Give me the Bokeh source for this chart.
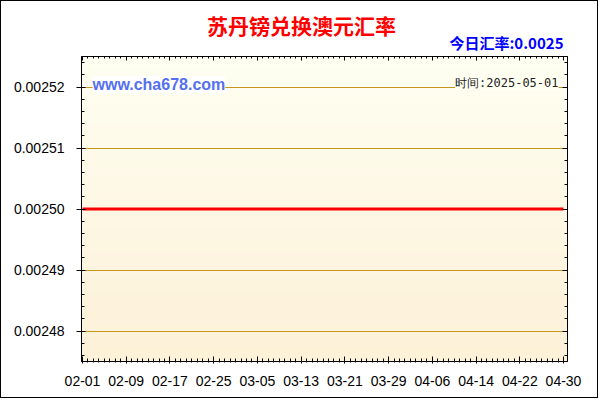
import numpy as np
import pandas as pd
from bokeh.plotting import figure
from bokeh.models import (Range1d, FixedTicker, DatetimeAxis, LinearAxis, Label,
                          CustomJSTickFormatter, PrintfTickFormatter)
from bokeh.embed import file_html
from bokeh.resources import INLINE

# ---------------- data ----------------
title_text = "苏丹镑兑换澳元汇率"
today_rate_text = "今日汇率:0.0025"
watermark_text = "www.cha678.com"
time_text = "时间:2025-05-01"

dates = ["2025-02-01", "2025-02-09", "2025-02-17", "2025-02-25", "2025-03-05", "2025-03-13",
         "2025-03-21", "2025-03-29", "2025-04-06", "2025-04-14", "2025-04-22", "2025-04-30"]
rates = [0.0025, 0.0025, 0.0025, 0.0025, 0.0025, 0.0025,
         0.0025, 0.0025, 0.0025, 0.0025, 0.0025, 0.0025]
x_tick_dates = ["2025-02-01", "2025-02-09", "2025-02-17", "2025-02-25", "2025-03-05", "2025-03-13",
                "2025-03-21", "2025-03-29", "2025-04-06", "2025-04-14", "2025-04-22", "2025-04-30"]
x_tick_labels = ["02-01", "02-09", "02-17", "02-25", "03-05", "03-13",
                 "03-21", "03-29", "04-06", "04-14", "04-22", "04-30"]
y_ticks = [0.00248, 0.00249, 0.00250, 0.00251, 0.00252]

# ---------------- helpers ----------------
DAY = 86400000.0
def ms(s):
    return pd.Timestamp(s).value / 1e6

x_vals = [ms(d) for d in dates]
x_lo = ms(x_tick_dates[0]) - 0.183 * DAY
x_hi = ms(x_tick_dates[-1]) + 0.73 * DAY
y_lo, y_hi = 0.002475, 0.002525

W, H = 598, 398
p = figure(width=W, height=H, x_axis_type="datetime",
           x_range=Range1d(x_lo, x_hi), y_range=Range1d(y_lo, y_hi),
           output_backend="svg", toolbar_location=None,
           min_border_left=80, min_border_right=32, min_border_top=55, min_border_bottom=38)
p.styles = {"border": "1px solid black"}
p.background_fill_color = "#FFFFF2"
p.border_fill_color = "white"
p.outline_line_color = "black"
p.outline_line_width = 1
p.title.text = ""

# gradient background
n = 64
top = np.array([255, 255, 242]); bot = np.array([253, 241, 216])
img = np.empty((n, 2), dtype=np.uint32)
view = img.view(dtype=np.uint8).reshape((n, 2, 4))
for i in range(n):
    t = i / (n - 1)
    c = bot * (1 - t) + top * t
    view[i, :, 0] = int(c[0]); view[i, :, 1] = int(c[1]); view[i, :, 2] = int(c[2]); view[i, :, 3] = 255
p.image_rgba(image=[img], x=x_lo, y=y_lo, dw=x_hi - x_lo, dh=y_hi - y_lo, level="image")

# grid
p.xgrid.grid_line_color = None
p.ygrid.grid_line_color = "#C8961E"
p.ygrid.grid_line_width = 1
p.ygrid.level = "underlay"

# ticks
day_minor = list(np.arange(ms(x_tick_dates[0]), ms(x_tick_dates[-1]) + 1, DAY))
x_ticker = FixedTicker(ticks=[ms(d) for d in x_tick_dates], minor_ticks=day_minor)
y_ticker = FixedTicker(ticks=y_ticks,
                       minor_ticks=list(np.round(np.arange(0.002476, 0.002525, 0.000002), 7)))

xa = p.xaxis[0]
xa.ticker = x_ticker
xa.major_label_overrides = {ms(d): lab for d, lab in zip(x_tick_dates, x_tick_labels)}
xa.major_tick_in = 5; xa.major_tick_out = 2
xa.minor_tick_in = 3; xa.minor_tick_out = 1
xa.major_label_standoff = 12
ya = p.yaxis[0]
ya.ticker = y_ticker
ya.formatter = PrintfTickFormatter(format="%.5f")
ya.major_tick_in = 4; ya.major_tick_out = 5
ya.minor_tick_in = 3; ya.minor_tick_out = 0
ya.major_label_standoff = 12
for ax in (xa, ya):
    ax.axis_line_color = "black"
    ax.major_tick_line_color = "black"
    ax.minor_tick_line_color = "black"
    ax.major_label_text_font = "Liberation Sans"
    ax.major_label_text_font_size = "14px"
    ax.major_label_text_color = "black"

blank = CustomJSTickFormatter(code="return ''")
top_ax = DatetimeAxis(ticker=x_ticker, formatter=blank, major_tick_in=4, major_tick_out=0,
                      minor_tick_in=2, minor_tick_out=0, major_label_standoff=0,
                      major_label_text_font_size="1px")
right_ax = LinearAxis(ticker=y_ticker, formatter=blank, major_tick_in=5, major_tick_out=0,
                      minor_tick_in=3, minor_tick_out=0, major_label_standoff=0,
                      major_label_text_font_size="1px")
p.add_layout(top_ax, "above")
p.add_layout(right_ax, "right")

# series
p.line(x_vals, rates, line_color="#FF0000", line_width=3)

# texts above the plot area (placed in the "above" side panel so they are not clipped)
p.add_layout(Label(x=x_lo, y=y_hi, x_offset=220, y_offset=32, text=title_text,
                   text_align="center", text_baseline="middle", text_color="#FF0000",
                   text_font="Noto Sans CJK SC", text_font_style="bold", text_font_size="21px"),
             "above")
p.add_layout(Label(x=x_hi, y=y_hi, x_offset=-4, y_offset=14, text=today_rate_text,
                   text_align="right", text_baseline="middle", text_color="#0000FF",
                   text_font="Noto Sans CJK SC", text_font_style="bold", text_font_size="15px"),
             "above")

# in-plot texts
p.add_layout(Label(x=x_lo, y=y_hi, x_offset=11, y_offset=-28, text=watermark_text,
                   text_align="left", text_baseline="middle", text_color="#5470F0",
                   text_font="Liberation Sans", text_font_style="bold", text_font_size="16px",
                   background_fill_color="white"))
p.add_layout(Label(x=x_hi, y=y_hi, x_offset=-9, y_offset=-26, text=time_text,
                   text_align="right", text_baseline="middle", text_color="#222222",
                   text_font="DejaVu Sans Mono", text_font_size="12px",
                   background_fill_color="#FFFFF2"))

open("out.html", "w").write(file_html(p, INLINE))
